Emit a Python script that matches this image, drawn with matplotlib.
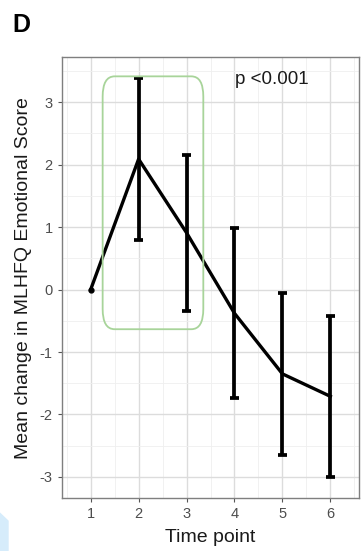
import numpy as np
import matplotlib.pyplot as plt
from matplotlib.patches import FancyBboxPatch, Polygon
from matplotlib.ticker import MultipleLocator

plt.rcParams['font.family'] = ['Liberation Sans', 'DejaVu Sans']
plt.rcParams['axes.unicode_minus'] = False

# values
time_points = [1, 2, 3, 4, 5, 6]
mean_change = [0.0, 2.09, 0.91, -0.38, -1.35, -1.71]
ci_upper = [0.0, 3.39, 2.15, 0.99, -0.05, -0.42]
ci_lower = [0.0, 0.80, -0.34, -1.73, -2.65, -3.00]
has_bar = [False, True, True, True, True, True]

fig = plt.figure(figsize=(3.62, 5.51), dpi=100)
ax = fig.add_axes([0.171, 0.096, 0.821, 0.800])

# ggplot theme_bw style grid
ax.set_axisbelow(True)
ax.xaxis.set_minor_locator(MultipleLocator(0.5))
ax.yaxis.set_minor_locator(MultipleLocator(0.5))
ax.grid(which='major', color='#DCDCDC', linewidth=1.0)
ax.grid(which='minor', color='#EFEFEF', linewidth=0.6)
for s in ax.spines.values():
    s.set_color('#7F7F7F')
    s.set_linewidth(1.0)

ax.plot(time_points, mean_change, color='black', linewidth=2.4, zorder=3)
ax.plot(time_points[0], mean_change[0], 'o', color='black', markersize=3.5, zorder=3)

x_bar = [t for t, h in zip(time_points, has_bar) if h]
lo = np.array([l for l, h in zip(ci_lower, has_bar) if h])
hi = np.array([u for u, h in zip(ci_upper, has_bar) if h])
ax.vlines(x_bar, lo, hi, color='black', linewidth=2.7, zorder=3)
ax.hlines(np.concatenate([lo, hi]), np.array(x_bar * 2) - 0.1, np.array(x_bar * 2) + 0.1,
          color='black', linewidth=2.7, zorder=3)

# green highlight box around time points 2-3
box = FancyBboxPatch((1.25 + 0.25, -0.66 + 0.35), 2.1 - 0.5, 4.1 - 0.7,
                     boxstyle='round,pad=0.25,rounding_size=0.25',
                     mutation_aspect=1.3,
                     fill=False, edgecolor='#A8D49A', linewidth=1.3, zorder=4)
ax.add_patch(box)

ax.text(4.77, 3.36, 'p <0.001', ha='center', va='center', fontsize=13.5, color='#1A1A1A')

ax.set_xlim(0.4, 6.6)
ax.set_ylim(-3.34, 3.72)
ax.set_xticks(time_points)
ax.set_yticks([-3, -2, -1, 0, 1, 2, 3])
ax.tick_params(which='major', length=3, color='#555555', labelcolor='#4D4D4D', labelsize=10.5)
ax.tick_params(which='minor', length=0)
ax.set_xlabel('Time point', fontsize=14, color='#1A1A1A', labelpad=6)
ax.set_ylabel('Mean change in MLHFQ Emotional Score', fontsize=14, color='#1A1A1A', labelpad=6)

fig.text(0.035, 0.955, 'D', fontsize=18, fontweight='bold', va='center', ha='left')

# light blue scrap at bottom-left corner
fig.patches.append(Polygon([[0, 0], [0.024, 0], [0.024, 0.055], [0, 0.07]],
                           closed=True, transform=fig.transFigure,
                           facecolor='#D6ECFB', edgecolor='none'))

fig.savefig('out.png', dpi=100)
